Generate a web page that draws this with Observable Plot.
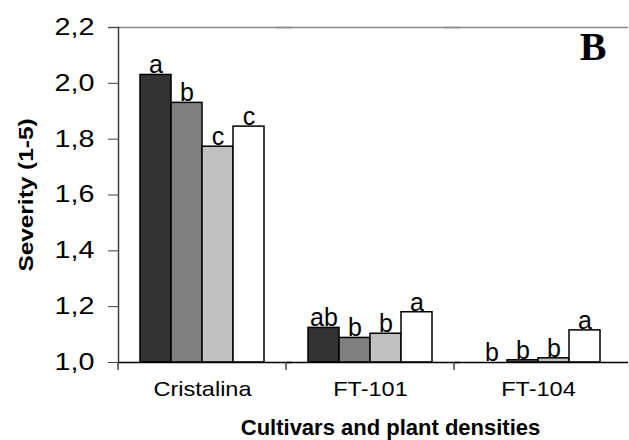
<!DOCTYPE html>
<html><head><meta charset="utf-8">
<script src="https://cdn.jsdelivr.net/npm/d3@7"></script>
<script src="https://cdn.jsdelivr.net/npm/@observablehq/plot@0.6"></script>
<style>body{margin:0;background:#fff}</style>
</head><body><div id="chart"></div>
<script>
const cultivars = ["Cristalina", "FT-101", "FT-104"];
const densities = ["D1", "D2", "D3", "D4"];
const severityCristalina = [2.03, 1.93, 1.773, 1.845];
const severityFT101 = [1.124, 1.088, 1.103, 1.18];
const severityFT104 = [1.0, 1.008, 1.015, 1.115];
const lettersCristalina = ["a", "b", "c", "c"];
const lettersFT101 = ["ab", "b", "b", "a"];
const lettersFT104 = ["b", "b", "b", "a"];
const fills = ["#333333", "#808080", "#c0c0c0", "#ffffff"];
const yTicks = [1.0, 1.2, 1.4, 1.6, 1.8, 2.0, 2.2];
const panelLabel = "B";

const seriesByCultivar = [severityCristalina, severityFT101, severityFT104];
const lettersByCultivar = [lettersCristalina, lettersFT101, lettersFT104];
const data = [];
cultivars.forEach((c, ci) => densities.forEach((d, di) => {
  data.push({cultivar: c, density: d, value: seriesByCultivar[ci][di], letter: lettersByCultivar[ci][di]});
}));

const boundaryTicks = (index, scales, values, dims) => {
  const g = d3.create("svg:g");
  const y0 = scales.y(1);
  g.append("line")
    .attr("x1", dims.marginLeft).attr("x2", dims.marginLeft)
    .attr("y1", y0).attr("y2", y0 + 8)
    .attr("stroke", "#404040").attr("stroke-width", 1.5);
  return g.node();
};

const chart = Plot.plot({
  width: 629,
  height: 440,
  marginLeft: 117,
  marginRight: 6,
  marginTop: 27,
  marginBottom: 78,
  style: {fontFamily: "'Liberation Sans', Arial, sans-serif", background: "#fff", color: "#000"},
  fx: {domain: cultivars, padding: 0},
  x: {domain: densities, paddingInner: 0, paddingOuter: 0.68, axis: null},
  y: {domain: [1, 2.2]},
  color: {domain: densities, range: fills},
  marks: [
    Plot.ruleY([2.2], {stroke: "#888", strokeWidth: 1.5, insetLeft: -10, insetRight: -6}),
    Plot.frame({anchor: "left", fx: () => "Cristalina", stroke: "#404040", strokeWidth: 1.5}),
    Plot.barY(data, {fx: "cultivar", x: "density", y1: 1, y2: "value", fill: "density", stroke: "#000", strokeWidth: 1.5}),
    Plot.ruleY([1], {stroke: "#000", strokeWidth: 1.5, insetRight: -6}),
    boundaryTicks,
    Plot.text(data, {fx: "cultivar", x: "density", y: "value", text: "letter", lineAnchor: "bottom", dy: -1.5, fontSize: 25, fill: "#000", ariaLabel: "letters"}),
    Plot.text([{c: "FT-104", t: panelLabel}], {fx: "c", text: "t", frameAnchor: "top-right", lineAnchor: "top", dx: -16, dy: 4, fontFamily: "'Liberation Serif', 'Times New Roman', serif", fontWeight: "bold", fontSize: 40, fill: "#000"}),
    Plot.axisY({ticks: yTicks, tickFormat: d => d.toFixed(1).replace(".", ","), tickSize: 10, tickPadding: 14, fontSize: 23, stroke: "#404040", label: "Severity (1-5)", labelArrow: "none", labelAnchor: "center", labelOffset: 100}),
    Plot.axisFx({anchor: "bottom", tickSize: 0, tickPadding: 19, fontSize: 21, label: "Cultivars and plant densities", labelArrow: "none", labelAnchor: "center", labelOffset: 72})
  ]
});
document.getElementById("chart").appendChild(chart);
const svg = d3.select(chart.tagName === "svg" ? chart : chart.querySelector("svg"));
const stripArrow = function() { return this.textContent.replace(/[↑→←↓]/g, "").trim(); };
const stretch = (sel, k) => sel.each(function() {
  const w = this.getComputedTextLength();
  if (w > 0) this.setAttribute("textLength", w * k), this.setAttribute("lengthAdjust", "spacingAndGlyphs");
});
const yLabel = svg.selectAll('[aria-label="y-axis label"] text').style("font-weight", "bold").style("font-size", "20px").text(stripArrow);
stretch(yLabel, 1.22);
svg.selectAll('[aria-label="fx-axis label"] text').style("font-weight", "bold").style("font-size", "22px")
  .text(stripArrow)
  .attr("transform", function() { return (this.getAttribute("transform") || "") + " translate(20,0)"; });
stretch(svg.selectAll('[aria-label="y-axis tick label"] text'), 1.25);
stretch(svg.selectAll('[aria-label="fx-axis tick label"] text'), 1.12);
stretch(svg.selectAll('[aria-label="letters"] text'), 1.1);
</script></body></html>
